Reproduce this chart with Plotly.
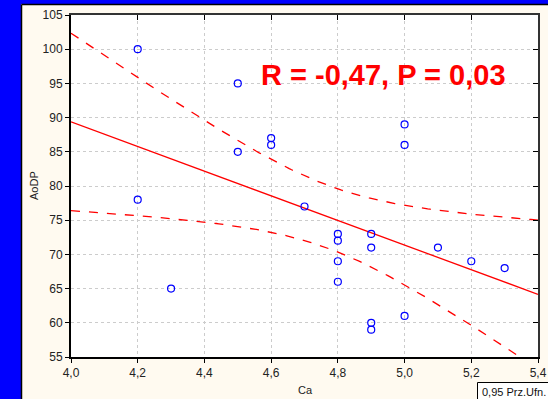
import numpy as np
import plotly.graph_objects as go

# Data
ca = [4.2, 4.2, 4.3, 4.5, 4.5, 4.6, 4.6, 4.7, 4.8, 4.8, 4.8, 4.8,
      4.9, 4.9, 4.9, 4.9, 5.0, 5.0, 5.0, 5.1, 5.2, 5.3]
aodp = [100, 78, 65, 95, 85, 87, 86, 77, 73, 72, 69, 66,
        73, 71, 60, 59, 89, 86, 61, 71, 69, 68]
x_ticks = [4.0, 4.2, 4.4, 4.6, 4.8, 5.0, 5.2, 5.4]
y_ticks = [55, 60, 65, 70, 75, 80, 85, 90, 95, 100, 105]
stat_text = "R = -0,47, P = 0,03"
conf_label = "0,95 Prz.Ufn."
t_crit = 2.086  # t(0.975, df=20)

W, H = 548, 399
ML, MR, MT, MB = 71, 10, 15, 42
PW, PH = W - ML - MR, H - MT - MB


def px(xp):
    return (xp - ML) / PW


def py(yp):
    return (H - MB - yp) / PH


x = np.array(ca, dtype=float)
y = np.array(aodp, dtype=float)
n = len(x)
slope, intercept = np.polyfit(x, y, 1)
resid = y - (slope * x + intercept)
s = np.sqrt(np.sum(resid ** 2) / (n - 2))
sxx = np.sum((x - x.mean()) ** 2)
xg = np.linspace(4.0, 5.4, 200)
yg = slope * xg + intercept
se = s * np.sqrt(1.0 / n + (xg - x.mean()) ** 2 / sxx)
upper = yg + t_crit * se
lower = yg - t_crit * se

fig = go.Figure()
fig.add_trace(go.Scatter(x=xg, y=upper, mode="lines",
                         line=dict(color="#FF0000", width=1.3, dash="dash"),
                         hoverinfo="skip"))
fig.add_trace(go.Scatter(x=xg, y=lower, mode="lines",
                         line=dict(color="#FF0000", width=1.3, dash="dash"),
                         hoverinfo="skip"))
fig.add_trace(go.Scatter(x=xg, y=yg, mode="lines",
                         line=dict(color="#FF0000", width=1.3),
                         hoverinfo="skip"))
fig.add_trace(go.Scatter(x=ca, y=aodp, mode="markers",
                         marker=dict(symbol="circle-open", size=7,
                                     color="#0000FF", line=dict(width=1.2))))
# dummy trace to create mirrored inner-tick axes
fig.add_trace(go.Scatter(x=[None], y=[None], xaxis="x2", yaxis="y2",
                         mode="markers", hoverinfo="skip"))

font_tick = dict(family="Liberation Sans, Arial", size=12, color="#222222")
font_axis = dict(family="Liberation Sans, Arial", size=11, color="#222222")

fig.update_layout(
    width=W, height=H, autosize=False,
    margin=dict(l=ML, r=MR, t=MT, b=MB, pad=0, autoexpand=False),
    paper_bgcolor="#FFFAF0",
    plot_bgcolor="#FFFFFF",
    showlegend=False,
    separators=", ",
    xaxis=dict(range=[4.0, 5.4], tickvals=x_ticks, tickformat=".1f",
               ticks="outside", ticklen=4, tickcolor="#000000",
               showline=True, linecolor="#000000", linewidth=2,
               showgrid=True, gridcolor="#CCCCCC", gridwidth=1,
               griddash="dot", zeroline=False, tickfont=font_tick,
               automargin=False),
    yaxis=dict(range=[55, 105], tickvals=y_ticks,
               ticks="outside", ticklen=4, tickcolor="#000000",
               showline=True, linecolor="#000000", linewidth=2,
               showgrid=True, gridcolor="#CCCCCC", gridwidth=1,
               griddash="dot", zeroline=False, tickfont=font_tick,
               automargin=False),
    xaxis2=dict(range=[4.0, 5.4], tickvals=x_ticks, overlaying="x",
                side="top", ticks="inside", ticklen=5, tickcolor="#000000",
                showticklabels=False, showline=True, linecolor="#333333",
                linewidth=1.5, showgrid=False, zeroline=False,
                automargin=False),
    yaxis2=dict(range=[55, 105], tickvals=y_ticks, overlaying="y",
                side="right", ticks="inside", ticklen=5, tickcolor="#000000",
                showticklabels=False, showline=True, linecolor="#333333",
                linewidth=1.5, showgrid=False, zeroline=False,
                automargin=False),
)

shapes = [
    # blue frame: left strip and top strip
    dict(type="rect", xref="paper", yref="paper", x0=px(-5), x1=px(21),
         y0=py(H + 5), y1=py(-5), fillcolor="#0000FF", line=dict(width=0),
         layer="above"),
    dict(type="rect", xref="paper", yref="paper", x0=px(-5), x1=px(W + 5),
         y0=py(4), y1=py(-5), fillcolor="#0000FF", line=dict(width=0),
         layer="above"),
    # dark edges of the panel
    dict(type="line", xref="paper", yref="paper", x0=px(21.5), x1=px(21.5),
         y0=py(4.5), y1=py(H + 5), line=dict(color="#000000", width=1.5),
         layer="above"),
    dict(type="line", xref="paper", yref="paper", x0=px(21.5), x1=px(W + 5),
         y0=py(4.5), y1=py(4.5), line=dict(color="#000000", width=1.5),
         layer="above"),
    # legend box at bottom right
    dict(type="rect", xref="paper", yref="paper", x0=px(477.5), x1=px(W + 5),
         y0=py(H + 5), y1=py(382.5), fillcolor="#FFFFFF",
         line=dict(color="#000000", width=1), layer="above"),
]
fig.update_layout(shapes=shapes)

fig.add_annotation(text="<b>" + stat_text + "</b>", xref="paper", yref="paper",
                   x=px(383.5), y=py(75), xanchor="center", yanchor="middle",
                   showarrow=False,
                   font=dict(family="Liberation Sans, Arial", size=29,
                             color="#FF0000"))
fig.add_annotation(text="AoDP", xref="paper", yref="paper",
                   x=px(34), y=py(186), xanchor="center", yanchor="middle",
                   textangle=-90, showarrow=False, font=font_axis)
fig.add_annotation(text="Ca", xref="paper", yref="paper",
                   x=px(305), y=py(390), xanchor="center", yanchor="middle",
                   showarrow=False, font=font_axis)
fig.add_annotation(text=conf_label, xref="paper", yref="paper",
                   x=px(480), y=py(391.5), xanchor="left", yanchor="middle",
                   showarrow=False,
                   font=dict(family="Liberation Sans, Arial", size=11,
                             color="#111111"))

fig.write_html(
    "out.html",
    config={"displayModeBar": False},
    post_script="document.body.style.margin='0';"
                "document.body.style.padding='0';"
                "document.body.style.overflow='hidden';",
)
